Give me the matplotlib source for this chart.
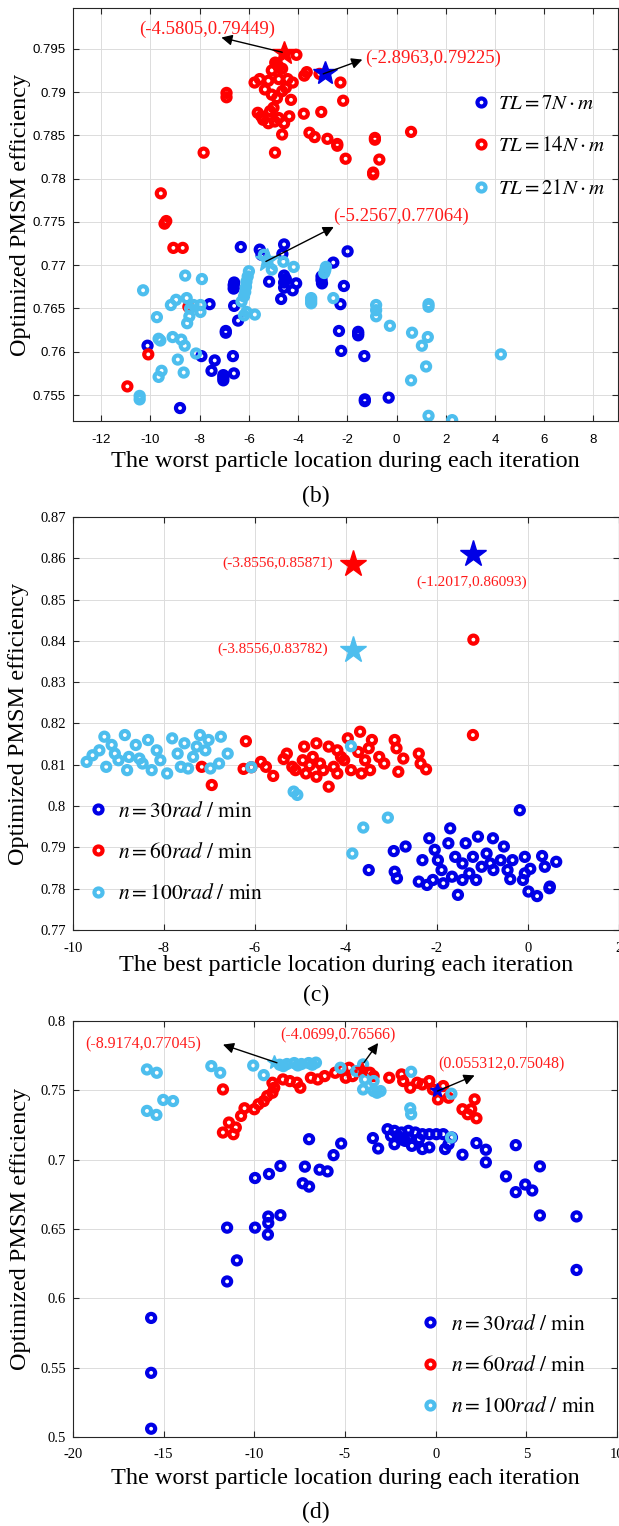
import matplotlib
matplotlib.use('Agg')
import matplotlib.pyplot as plt
from matplotlib.lines import Line2D
import numpy as np

plt.rcParams['mathtext.fontset'] = 'stix'
plt.rcParams['axes.unicode_minus'] = False

BLUE = '#0000e6'
RED = '#ff0000'
CYAN = '#4dbeee'

# ---------------- (b) worst particle, three load torques ----------------
b_tl7_x = [-6.33, -5.56, -5.49, -4.57, -4.64, -1.99, -2.57, -6.62, -6.62, -6.60, -5.18, -4.57,
           -4.57, -4.57, -4.50, -4.08, -4.22, -4.69, -3.05, -3.05, -3.03, -2.14, -2.28, -7.60,
           -6.60, -6.44, -6.94, -6.94, -2.34, -1.56, -1.56, -1.56, -10.12, -2.25, -1.31, -7.93,
           -7.39, -6.65, -7.52, -7.04, -7.04, -7.04, -6.61, -1.29, -1.29, -0.32, -8.80]
b_tl7_y = [0.7721, 0.7718, 0.7712, 0.7724, 0.7713, 0.7716, 0.7703, 0.7677, 0.7673, 0.7680, 0.7681, 0.7688,
           0.7680, 0.7674, 0.7684, 0.7679, 0.7671, 0.7661, 0.7683, 0.7687, 0.7679, 0.7676, 0.7655, 0.7655,
           0.7653, 0.7636, 0.7624, 0.7622, 0.7624, 0.7623, 0.7619, 0.7621, 0.7607, 0.7601, 0.7595, 0.7595,
           0.7590, 0.7595, 0.7578, 0.7573, 0.7567, 0.7570, 0.7575, 0.7543, 0.7545, 0.7547, 0.7535]

b_tl14_x = [-4.07, -4.93, -4.79, -5.07, -4.65, -4.85, -5.56, -5.77, -5.21, -4.79, -4.43, -4.22,
            -3.65, -3.75, -3.13, -2.28, -6.91, -6.91, -5.35, -5.07, -4.65, -4.29, -4.86, -4.50,
            -2.17, -5.64, -5.42, -5.14, -4.79, -4.57, -4.36, -5.21, -5.00, -5.50, -4.95, -3.77,
            -3.06, -4.65, -3.54, -3.33, -2.81, -2.41, -2.41, -0.88, -0.88, 0.59, -7.84, -4.94,
            -2.07, -0.70, -0.95, -0.95, -9.58, -9.43, -9.36, -9.07, -8.69, -8.46, -10.09, -10.94]
b_tl14_y = [0.7943, 0.7934, 0.7929, 0.7925, 0.7927, 0.7932, 0.7915, 0.7911, 0.7913, 0.7915, 0.7915, 0.7911,
            0.7923, 0.7919, 0.7921, 0.7911, 0.7899, 0.7894, 0.7903, 0.7897, 0.7901, 0.7891, 0.7893, 0.7905,
            0.7890, 0.7876, 0.7868, 0.7878, 0.7870, 0.7864, 0.7872, 0.7864, 0.7882, 0.7872, 0.7866, 0.7875,
            0.7877, 0.7851, 0.7853, 0.7848, 0.7846, 0.7840, 0.7838, 0.7847, 0.7845, 0.7854, 0.7830, 0.7830,
            0.7823, 0.7822, 0.7807, 0.7805, 0.7783, 0.7748, 0.7751, 0.7720, 0.7720, 0.7652, 0.7597, 0.7560]

b_tl21_x = [-5.39, -4.60, -4.18, -5.07, -6.00, -6.05, -6.10, -6.12, -6.15, -6.20, -6.30, -6.20,
            -6.10, -5.76, -2.87, -2.94, -2.90, -3.47, -3.47, -3.47, -2.57, -0.83, -0.83, -0.83,
            -0.27, 1.30, 1.30, 0.63, 1.27, 1.03, 1.20, 0.59, 4.24, 1.30, 2.26, -8.59,
            -7.91, -10.30, -9.17, -8.96, -8.53, -8.39, -8.25, -7.97, -7.97, -9.74, -8.42, -8.51,
            -9.67, -9.60, -9.10, -8.75, -8.61, -8.15, -8.89, -9.55, -9.67, -8.65, -10.44, -10.44]
b_tl21_y = [0.7712, 0.7704, 0.7698, 0.7695, 0.7693, 0.7687, 0.7681, 0.7675, 0.7669, 0.7664, 0.7658, 0.7642,
            0.7646, 0.7643, 0.7698, 0.7691, 0.7694, 0.7662, 0.7656, 0.7659, 0.7662, 0.7654, 0.7648, 0.7641,
            0.7630, 0.7655, 0.7652, 0.7622, 0.7617, 0.7607, 0.7583, 0.7567, 0.7597, 0.7526, 0.7521, 0.7688,
            0.7684, 0.7671, 0.7654, 0.7660, 0.7662, 0.7650, 0.7654, 0.7654, 0.7646, 0.7640, 0.7641, 0.7633,
            0.7615, 0.7613, 0.7617, 0.7614, 0.7607, 0.7598, 0.7591, 0.7578, 0.7571, 0.7576, 0.7549, 0.7545]

b_best_tl7 = (-2.8963, 0.79225)
b_best_tl14 = (-4.5805, 0.79449)
b_best_tl21 = (-5.2567, 0.77064)

# ---------------- (c) best particle, three speeds ----------------
c_n30_x = [-0.18, -3.50, -2.95, -2.69, -2.93, -2.88, -2.40, -2.22, -2.32, -2.17, -2.05, -1.90,
           -1.71, -1.75, -1.60, -1.86, -1.54, -1.37, -1.29, -1.10, -1.21, -1.02, -0.77, -0.76,
           -0.53, -0.60, -0.34, -0.39, -0.07, -0.07, 0.05, 0.01, 0.20, 0.31, 0.37, 0.48,
           0.62, -2.09, -1.44, -1.98, -0.91, -1.67, -1.44, -1.14, -0.83, -0.45, -0.11, 0.47]
c_n30_y = [0.7990, 0.7845, 0.7891, 0.7902, 0.7841, 0.7825, 0.7817, 0.7809, 0.7869, 0.7922, 0.7894, 0.7845,
           0.7946, 0.7910, 0.7877, 0.7813, 0.7785, 0.7910, 0.7837, 0.7926, 0.7877, 0.7853, 0.7922, 0.7845,
           0.7902, 0.7869, 0.7869, 0.7823, 0.7877, 0.7837, 0.7848, 0.7793, 0.7782, 0.7879, 0.7853, 0.7805,
           0.7865, 0.7821, 0.7821, 0.7869, 0.7885, 0.7829, 0.7861, 0.7821, 0.7861, 0.7845, 0.7821, 0.7801]

c_n60_x = [-1.20, -1.21, -6.20, -6.95, -6.25, -6.08, -5.87, -5.76, -5.60, -5.37, -5.30, -5.18,
           -4.92, -4.95, -4.73, -4.65, -4.50, -4.38, -4.38, -4.19, -4.04, -3.96, -3.89, -3.69,
           -3.66, -3.58, -3.43, -3.50, -3.47, -3.27, -3.16, -2.93, -2.89, -2.85, -2.74, -2.40,
           -2.36, -2.24, -4.88, -5.11, -4.57, -4.27, -4.11, -3.73, -4.65, -4.80, -4.19, -7.17]
c_n60_y = [0.8403, 0.8172, 0.8157, 0.8051, 0.8090, 0.8094, 0.8107, 0.8095, 0.8073, 0.8114, 0.8127, 0.8095,
           0.8144, 0.8111, 0.8119, 0.8152, 0.8087, 0.8144, 0.8047, 0.8135, 0.8111, 0.8164, 0.8087, 0.8180,
           0.8079, 0.8111, 0.8160, 0.8140, 0.8087, 0.8119, 0.8103, 0.8160, 0.8140, 0.8083, 0.8115, 0.8127,
           0.8103, 0.8089, 0.8079, 0.8087, 0.8103, 0.8095, 0.8119, 0.8131, 0.8071, 0.8099, 0.8079, 0.8095]

c_n100_x = [-9.70, -9.57, -9.31, -9.27, -9.15, -9.08, -8.86, -8.81, -8.62, -8.54, -8.35, -8.27,
            -8.16, -7.93, -7.82, -7.70, -7.63, -7.55, -7.36, -7.21, -7.09, -7.02, -6.98, -6.75,
            -6.60, -6.79, -9.00, -8.77, -8.47, -8.08, -7.47, -7.28, -9.42, -6.08, -3.89, -5.15,
            -5.07, -3.08, -3.62, -3.86]
c_n100_y = [0.8107, 0.8123, 0.8168, 0.8095, 0.8148, 0.8127, 0.8172, 0.8087, 0.8148, 0.8115, 0.8160, 0.8087,
            0.8135, 0.8079, 0.8164, 0.8127, 0.8095, 0.8152, 0.8119, 0.8172, 0.8135, 0.8160, 0.8091, 0.8168,
            0.8127, 0.8103, 0.8111, 0.8119, 0.8103, 0.8111, 0.8091, 0.8144, 0.8135, 0.8094, 0.8145, 0.8035,
            0.8027, 0.7972, 0.7948, 0.7885]

c_best_n30 = (-1.2017, 0.86093)
c_best_n60 = (-3.8556, 0.85871)
c_best_n100 = (-3.8556, 0.83782)

# ---------------- (d) worst particle, three speeds ----------------
d_n30_x = [-6.98, -5.21, -5.63, -9.96, -9.19, -8.56, -7.21, -6.40, -5.96, -7.33, -6.98, -11.50,
           -9.96, -9.23, -8.56, -9.23, -9.25, -3.46, -3.17, -2.65, -2.27, -1.88, -1.50, -1.12,
           -0.73, -0.35, 0.04, 0.42, -2.27, -1.69, -1.31, -0.73, -0.35, 0.52, 0.71, -2.46,
           -1.88, -0.92, -2.08, -1.50, 0.90, 1.48, 2.25, 2.77, 2.77, 4.42, 3.88, 4.42,
           4.94, 5.33, 5.75, 5.75, 7.77, -10.96, -11.50, -15.69, -15.69, -15.69, 7.77]
d_n30_y = [0.7148, 0.7117, 0.7033, 0.6868, 0.6897, 0.6955, 0.6950, 0.6928, 0.6916, 0.6830, 0.6806, 0.6510,
           0.6510, 0.6590, 0.6600, 0.6543, 0.6460, 0.7156, 0.7081, 0.7220, 0.7208, 0.7196, 0.7208, 0.7196,
           0.7184, 0.7184, 0.7184, 0.7184, 0.7112, 0.7136, 0.7100, 0.7077, 0.7089, 0.7077, 0.7112, 0.7172,
           0.7148, 0.7148, 0.7172, 0.7160, 0.7160, 0.7036, 0.7120, 0.7072, 0.6981, 0.7105, 0.6880, 0.6766,
           0.6821, 0.6778, 0.6952, 0.6598, 0.6591, 0.6274, 0.6122, 0.5859, 0.5463, 0.5060, 0.6205]

d_n60_x = [-11.73, -11.73, -11.15, -11.40, -11.02, -10.73, -10.54, -10.00, -9.77, -9.48, -9.29, -9.00,
           -8.90, -9.00, -8.42, -8.04, -7.46, -7.65, -6.88, -6.50, -6.12, -5.54, -5.15, -4.77,
           -4.58, -4.19, -3.62, -3.42, -4.96, -2.56, -1.88, -1.79, -1.40, -1.02, -0.73, -0.35,
           -0.15, 0.13, 0.42, 0.71, 1.48, 1.77, 2.15, 1.96, 2.25]
d_n60_y = [0.7507, 0.7196, 0.7184, 0.7268, 0.7232, 0.7316, 0.7371, 0.7364, 0.7400, 0.7423, 0.7459, 0.7483,
           0.7519, 0.7555, 0.7579, 0.7567, 0.7519, 0.7555, 0.7591, 0.7579, 0.7603, 0.7627, 0.7651, 0.7663,
           0.7603, 0.7639, 0.7627, 0.7603, 0.7591, 0.7591, 0.7615, 0.7567, 0.7519, 0.7555, 0.7543, 0.7567,
           0.7507, 0.7435, 0.7531, 0.7447, 0.7364, 0.7328, 0.7435, 0.7364, 0.7299]

d_n100_x = [-15.92, -15.38, -15.02, -14.48, -15.92, -15.40, -12.37, -11.88, -10.06, -9.48, -8.60, -8.20,
            -7.80, -7.40, -7.00, -6.60, -8.40, -7.60, -6.80, -5.25, -4.38, -4.00, -3.90, -4.00,
            -3.42, -3.42, -3.23, -3.04, -1.35, -1.40, -1.35, 0.87, 0.85]
d_n100_y = [0.7651, 0.7627, 0.7431, 0.7423, 0.7352, 0.7323, 0.7675, 0.7627, 0.7679, 0.7610, 0.7685, 0.7690,
            0.7697, 0.7690, 0.7697, 0.7700, 0.7675, 0.7680, 0.7685, 0.7663, 0.7639, 0.7687, 0.7579, 0.7507,
            0.7567, 0.7495, 0.7483, 0.7495, 0.7634, 0.7371, 0.7328, 0.7476, 0.7160]

d_best_n30 = (0.055312, 0.75048)
d_best_n60 = (-4.0699, 0.76566)
d_best_n100 = (-8.9174, 0.77045)

RING = dict(s=34, facecolors='none', linewidths=3.0)


def ring_handle(color):
    return Line2D([], [], ls='none', marker='o', ms=5.8, mfc='none', mec=color, mew=3.0)


def style_axes(ax, tickfont, ticksize, xpad):
    ax.grid(True, color='#dcdcdc', lw=0.7)
    ax.set_axisbelow(True)
    ax.tick_params(direction='in', top=True, right=True, length=4, width=0.8,
                   labelsize=ticksize, color='#262626', pad=5)
    ax.tick_params(axis='x', pad=xpad)
    for lab in ax.get_xticklabels() + ax.get_yticklabels():
        lab.set_fontfamily(tickfont)
    for sp in ax.spines.values():
        sp.set_color('#262626')
        sp.set_linewidth(0.8)


def axis_titles(ax, xtext, xpos, ypos):
    ax.set_xlabel(xtext, family=serif, fontsize=17.5, va='center')
    ax.set_ylabel('Optimized PMSM efficiency', family=serif, fontsize=17.5)
    ax.xaxis.set_label_coords(0.5, xpos)
    ax.yaxis.set_label_coords(ypos, 0.5)


def label_tag(ax, x, y, s, **kw):
    ax.text(x, y, s, color='#ff1a1a', fontsize=kw.pop('fontsize', 12),
            family='Liberation Serif', **kw)


def arrow(ax, tail, head):
    ax.annotate('', xy=head, xytext=tail,
                arrowprops=dict(arrowstyle='-|>', color='k', lw=1.0,
                                mutation_scale=16, shrinkA=0, shrinkB=0))


fig = plt.figure(figsize=(6.19, 15.26), dpi=100)
serif = 'Liberation Serif'

# panel (b)
ax1 = fig.add_axes([0.1179, 0.7241, 0.8805, 0.2706])
ax1.scatter(b_tl7_x, b_tl7_y, edgecolors=BLUE, **RING)
ax1.plot(*b_best_tl7, marker='*', ms=18, color=BLUE, ls='none')
ax1.scatter(b_tl14_x, b_tl14_y, edgecolors=RED, **RING)
ax1.plot(*b_best_tl14, marker='*', ms=18, color=RED, ls='none')
ax1.scatter(b_tl21_x, b_tl21_y, edgecolors=CYAN, **RING)
ax1.plot(*b_best_tl21, marker='*', ms=18, color=CYAN, ls='none')
ax1.set_xlim(-13.15, 9.0)
ax1.set_ylim(0.752, 0.7997)
ax1.set_xticks(np.arange(-12, 9, 2))
ax1.set_yticks(np.arange(0.755, 0.796, 0.005))
ax1.set_yticklabels(['%g' % round(v, 3) for v in np.arange(0.755, 0.796, 0.005)])
style_axes(ax1, 'Liberation Sans', 9.5, 9)

arrow(ax1, (-4.645, 0.7946), (-7.12, 0.7963))
label_tag(ax1, -7.71, 0.7973, '(%g,%g)' % b_best_tl14, ha='center', va='center', fontsize=13.5)
arrow(ax1, (-2.98, 0.7921), (-1.39, 0.79375))
label_tag(ax1, -1.28, 0.79395, '(%g,%g)' % b_best_tl7, ha='left', va='center', fontsize=13.5)
arrow(ax1, (-5.31, 0.77043), (-2.55, 0.77442))
label_tag(ax1, -2.59, 0.77566, '(%g,%g)' % b_best_tl21, ha='left', va='center', fontsize=13.5)

ax1.legend([ring_handle(BLUE), ring_handle(RED), ring_handle(CYAN)],
           [r'$TL=7N\cdot m$', r'$TL=14N\cdot m$', r'$TL=21N\cdot m$'],
           loc='upper left', bbox_to_anchor=(0.696, 0.84), frameon=False,
           fontsize=15, labelspacing=1.08, handletextpad=0.3, handlelength=1.0)
axis_titles(ax1, 'The worst particle location during each iteration', -0.099, -0.077)

# panel (c)
ax2 = fig.add_axes([0.1179, 0.3906, 0.8821, 0.2706])
ax2.scatter(c_n30_x, c_n30_y, edgecolors=BLUE, **RING)
ax2.plot(*c_best_n30, marker='*', ms=20, color=BLUE, ls='none')
ax2.scatter(c_n60_x, c_n60_y, edgecolors=RED, **RING)
ax2.plot(*c_best_n60, marker='*', ms=20, color=RED, ls='none')
ax2.scatter(c_n100_x, c_n100_y, edgecolors=CYAN, **RING)
ax2.plot(*c_best_n100, marker='*', ms=20, color=CYAN, ls='none')
ax2.set_xlim(-10, 2)
ax2.set_ylim(0.77, 0.87)
ax2.set_xticks(np.arange(-10, 3, 2))
ax2.set_yticks(np.arange(0.77, 0.871, 0.01))
ax2.set_yticklabels(['%g' % round(v, 2) for v in np.arange(0.77, 0.871, 0.01)])
style_axes(ax2, serif, 10.5, 9)

label_tag(ax2, -4.28, 0.8589, '(%g,%g)' % c_best_n60, ha='right', va='center', fontsize=11)
label_tag(ax2, -4.40, 0.8380, '(%g,%g)' % c_best_n100, ha='right', va='center', fontsize=11)
label_tag(ax2, -1.23, 0.8542, '(%g,%g)' % c_best_n30, ha='center', va='center', fontsize=11)

n_labels = [r'$n=30rad\ /\ \mathrm{min}$', r'$n=60rad\ /\ \mathrm{min}$',
            r'$n=100rad\ /\ \mathrm{min}$']
ax2.legend([ring_handle(BLUE), ring_handle(RED), ring_handle(CYAN)], n_labels,
           loc='upper left', bbox_to_anchor=(-0.01, 0.36), frameon=False,
           fontsize=15.5, labelspacing=0.99, handletextpad=0.45, handlelength=1.0)
axis_titles(ax2, 'The best particle location during each iteration', -0.087, -0.081)

# panel (d)
ax3 = fig.add_axes([0.1179, 0.0583, 0.8788, 0.2726])
ax3.plot(*d_best_n30, marker='*', ms=10, color=BLUE, ls='none')
ax3.scatter(d_n30_x, d_n30_y, edgecolors=BLUE, **RING)
ax3.plot(*d_best_n60, marker='*', ms=10, color=RED, ls='none')
ax3.scatter(d_n60_x, d_n60_y, edgecolors=RED, **RING)
ax3.plot(*d_best_n100, marker='*', ms=10, color=CYAN, ls='none')
ax3.scatter(d_n100_x, d_n100_y, edgecolors=CYAN, **RING)
ax3.set_xlim(-20, 10)
ax3.set_ylim(0.5, 0.8)
ax3.set_xticks(np.arange(-20, 11, 5))
ax3.set_yticks(np.arange(0.5, 0.801, 0.05))
ax3.set_yticklabels(['%g' % round(v, 2) for v in np.arange(0.5, 0.801, 0.05)])
style_axes(ax3, serif, 10.5, 8)

arrow(ax3, (-8.75, 0.7699), (-11.73, 0.7830))
label_tag(ax3, -12.94, 0.7830, '(%g,%g)' % d_best_n100, ha='right', va='center', fontsize=11.5)
arrow(ax3, (-3.96, 0.7699), (-3.17, 0.7842))
label_tag(ax3, -5.40, 0.7897, '(%g,%g)' % d_best_n60, ha='center', va='center', fontsize=11.5)
arrow(ax3, (0.10, 0.7495), (2.15, 0.7608))
label_tag(ax3, 3.62, 0.7687, '(%g,%g)' % d_best_n30, ha='center', va='center', fontsize=11.5)

ax3.legend([ring_handle(BLUE), ring_handle(RED), ring_handle(CYAN)], n_labels,
           loc='upper left', bbox_to_anchor=(0.601, 0.343), frameon=False,
           fontsize=15.5, labelspacing=0.99, handletextpad=0.45, handlelength=1.0)
axis_titles(ax3, 'The worst particle location during each iteration', -0.0986, -0.077)

# sub-figure tags
for ypix, tag in [(496, '(b)'), (995, '(c)'), (1512, '(d)')]:
    fig.text(316 / 619, 1 - ypix / 1526, tag, ha='center', va='center',
             family=serif, fontsize=17)

fig.savefig('out.png', dpi=100)
